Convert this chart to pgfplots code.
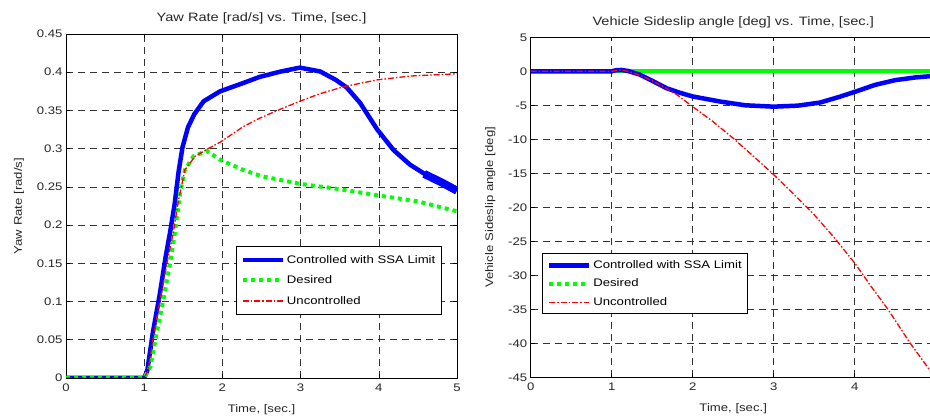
\documentclass[border=0pt]{standalone}
\usepackage{pgfplots}
\pgfplotsset{compat=1.18}
\usepackage{fontspec}
\setmainfont{Liberation Sans}[FakeStretch=1.2]

\definecolor{ctrlblue}{rgb}{0,0,1}
\definecolor{desgreen}{rgb}{0,1,0}
\definecolor{uncred}{rgb}{1,0,0}

\newcommand{\chartfont}{\fontsize{11}{13}\selectfont}
\newcommand{\titlefont}{\fontsize{12.2}{14}\selectfont}

\pgfplotsset{
  matlabaxis/.style={
    scale only axis,
    axis line style={black, line width=0.8bp},
    tick align=inside,
    xtick pos=both, ytick pos=both,
    major tick length=4bp,
    tick style={black, line width=0.6bp},
    grid=major,
    major grid style={black!80, line width=0.6bp, dash pattern=on 7bp off 5bp},
    /pgf/number format/assume math mode=true,
    tick label style={font=\chartfont, text=black!85},
    xticklabel style={yshift=-2bp},
    label style={font=\chartfont, text=black!85},
    title style={font=\titlefont, text=black!85},
    xlabel={Time, [sec.]},
    xlabel style={yshift=-6bp},
    ylabel style={yshift=6bp},
    xmin=0, xmax=5,
    legend style={font=\chartfont, draw=black, line width=0.8bp,
      row sep=7bp, inner xsep=4bp, inner ysep=7bp,
      /tikz/every even column/.append style={column sep=0bp}},
    legend cell align=left,
    legend image code/.code={\draw[##1] (0bp,0bp) -- (40bp,0bp);},
  },
  ctrl/.style={ctrlblue, line width=4.5bp, line join=round},
  des/.style={desgreen, line width=4bp, dash pattern=on 4bp off 4bp},
  unc/.style={uncred, line width=1.3bp, dash pattern=on 6bp off 2bp on 1.5bp off 2bp},
}

\begin{document}
\begin{tikzpicture}
\useasboundingbox (0,0) rectangle (930bp,417bp);
\clip (0,0) rectangle (930bp,417bp);

% ---------------- Yaw rate ----------------
\begin{axis}[matlabaxis,
  at={(66bp,39bp)}, anchor=south west,
  width=391bp, height=344bp,
  xtick={0,1,2,3,4,5},
  ymin=0, ymax=0.45, ytick={0,0.05,...,0.45},
  yticklabel style={/pgf/number format/fixed, /pgf/number format/precision=2},
  ylabel={Yaw Rate [rad/s]},
  title={Yaw Rate [rad/s] vs. Time, [sec.]},
  legend style={at={(0.435,0.384)}, anchor=north west},
]
\addlegendimage{ctrl}
\addlegendentry{Controlled with SSA Limit}
\addlegendimage{des}
\addlegendentry{Desired}
\addlegendimage{unc}
\addlegendentry{Uncontrolled}

\addplot[ctrl, forget plot] coordinates {
(0,0) (1,0) (1.04,0.01) (1.11,0.059) (1.2,0.11) (1.275,0.159) (1.33,0.19)
(1.39,0.228) (1.44,0.27) (1.49,0.302) (1.56,0.328) (1.64,0.345) (1.76,0.362)
(1.97,0.375) (2.27,0.386) (2.48,0.394) (2.75,0.401) (2.99,0.406) (3.25,0.401)
(3.45,0.39) (3.59,0.38) (3.76,0.36) (3.98,0.325) (4.19,0.298) (4.4,0.279)
(4.57,0.268) (4.8,0.257) (5,0.246)};
% chattering band of the controlled response near the end of the run
\addplot[ctrlblue, line width=8bp, line cap=butt, forget plot] coordinates {
(4.58,0.267) (4.8,0.256) (5,0.245)};
\addplot[des, forget plot] coordinates {
(0,0) (1,0) (1.08,0.015) (1.16,0.059) (1.25,0.105) (1.33,0.15) (1.39,0.189)
(1.46,0.242) (1.52,0.272) (1.63,0.29) (1.8,0.297) (1.98,0.285) (2.27,0.272)
(2.5,0.264) (2.99,0.254) (3.5,0.247) (3.98,0.239) (4.5,0.231) (5,0.218)};
\addplot[unc, forget plot] coordinates {
(0,0) (1,0) (1.05,0.01) (1.12,0.055) (1.2,0.1) (1.3,0.155) (1.37,0.189)
(1.44,0.233) (1.52,0.272) (1.65,0.29) (1.8,0.299) (1.98,0.309) (2.27,0.329)
(2.48,0.34) (2.75,0.352) (2.99,0.362) (3.25,0.372) (3.55,0.381) (3.98,0.39)
(4.4,0.395) (5,0.398)};
\end{axis}

% ---------------- Sideslip angle ----------------
\begin{axis}[matlabaxis,
  at={(530.7bp,39.7bp)}, anchor=south west,
  width=405bp, height=340bp,
  xtick={0,1,2,3,4},
  ymin=-45, ymax=5, ytick={-45,-40,...,5},
  ylabel={Vehicle Sideslip angle [deg]},
  title={Vehicle Sideslip angle [deg] vs. Time, [sec.]},
  legend style={at={(0.029,0.365)}, anchor=north west, row sep=5bp, inner ysep=5bp},
]
\addlegendimage{ctrl}
\addlegendentry{Controlled with SSA Limit}
\addlegendimage{des}
\addlegendentry{Desired}
\addlegendimage{unc}
\addlegendentry{Uncontrolled}

\addplot[desgreen, line width=4bp, forget plot] coordinates {(0,0) (5,0)};
\addplot[ctrl, forget plot] coordinates {
(0,0) (1,0) (1.05,0.15) (1.12,0.2) (1.2,0.05) (1.35,-0.5) (1.5,-1.4)
(1.68,-2.5) (1.84,-3.15) (2,-3.7) (2.34,-4.45) (2.65,-5.0) (3,-5.2)
(3.3,-5.05) (3.57,-4.6) (3.8,-3.8) (4.02,-2.95) (4.25,-2.0)
(4.5,-1.3) (4.75,-0.9) (5,-0.65)};
\addplot[unc, forget plot] coordinates {
(0,0) (1,0) (1.05,0.12) (1.12,0.18) (1.2,0.0) (1.35,-0.6) (1.5,-1.4)
(1.6,-2.0) (1.8,-3.4) (2,-5.2) (2.25,-7.4) (2.5,-9.85) (2.75,-12.5)
(3,-15.2) (3.25,-18.1) (3.5,-21.1) (3.75,-24.5) (4,-28.2) (4.2,-31.6)
(4.41,-35) (4.68,-39.9) (4.93,-44.0) (5,-45.2)};
\end{axis}
\end{tikzpicture}
\end{document}
